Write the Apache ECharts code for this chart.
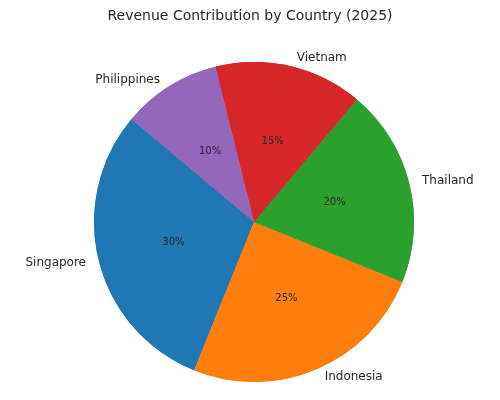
<!DOCTYPE html><html><head><meta charset="utf-8"><script src="https://cdn.jsdelivr.net/npm/echarts@6/dist/echarts.min.js"></script></head><body style="margin:0"><div id="c" style="width:500px;height:400px"></div><script>
const categories=["Singapore","Indonesia","Thailand","Vietnam","Philippines"];
const values=[30,25,20,15,10];
const colors=["#1f77b4","#ff7f0e","#2ca02c","#d62728","#9467bd"];
const data=categories.map((n,i)=>({name:n,value:values[i],itemStyle:{color:colors[i]}}));
const base={type:'pie',center:[254,222],radius:[0,160],startAngle:140,clockwise:false,data:data,emphasis:{disabled:true},animation:false};
echarts.init(document.getElementById('c')).setOption({
title:{text:'Revenue Contribution by Country (2025)',left:'center',top:4,textStyle:{fontFamily:'DejaVu Sans',fontSize:14,fontWeight:'normal',color:'#262626'}},
series:[
Object.assign({},base,{label:{position:'outside',formatter:'{b}',fontFamily:'DejaVu Sans',fontSize:12,color:'#262626'},labelLine:{show:false,length:8,length2:0}}),
Object.assign({},base,{silent:true,label:{position:'inside',formatter:'{d}%',fontFamily:'DejaVu Sans',fontSize:10,color:'#262626'},labelLine:{show:false}})
]});
</script></body></html>
